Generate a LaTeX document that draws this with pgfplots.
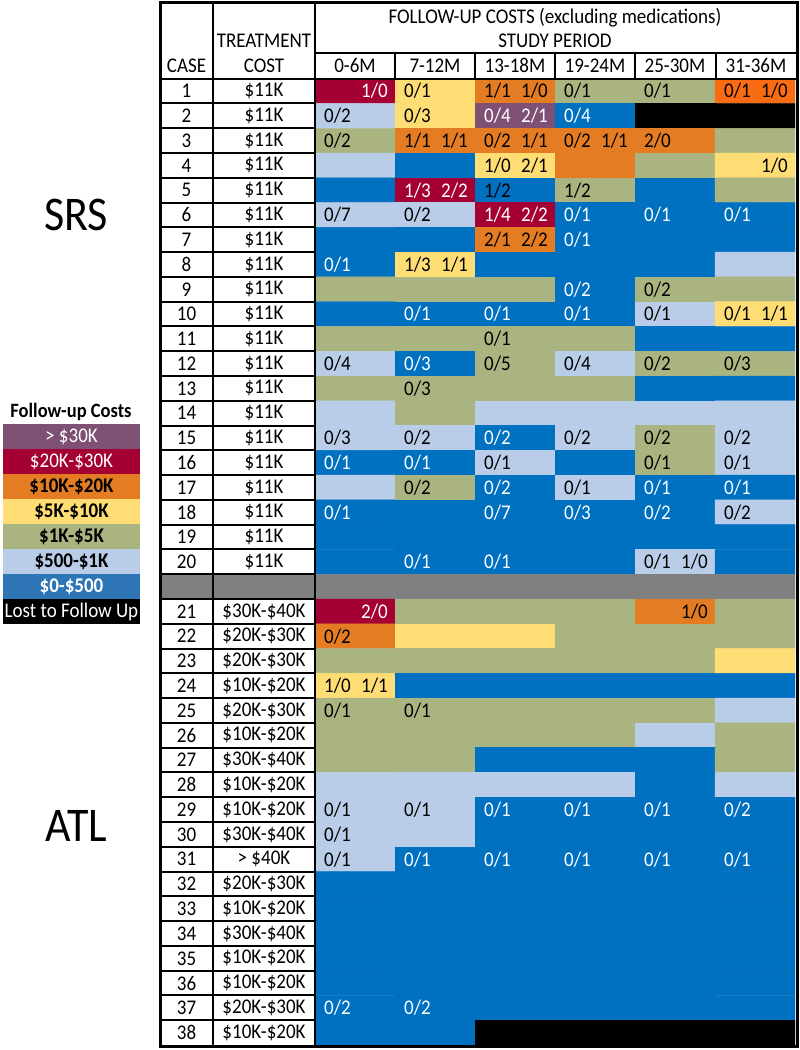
\documentclass[border=0pt]{standalone}
\usepackage{fontspec}
\setmainfont{Carlito}
\usepackage{graphicx}
\usepackage{pgfplots}
\usepackage{pgfplotstable}
\pgfplotsset{compat=1.18}

\definecolor{cPur}{RGB}{126,80,115}
\definecolor{cRed}{RGB}{165,0,52}
\definecolor{cOra}{RGB}{227,124,34}
\definecolor{cYel}{RGB}{255,221,117}
\definecolor{cOli}{RGB}{170,180,128}
\definecolor{cLbl}{RGB}{185,205,233}
\definecolor{cBlu}{RGB}{0,112,192}
\definecolor{cBlu2}{RGB}{46,117,182}
\definecolor{cGry}{RGB}{128,128,128}

\newcommand\cf{\fontsize{19}{22}\selectfont}
\newcommand\st[1]{\scalebox{1}[1.1]{#1}}

% cell colour codes: 0 >30K, 1 20-30K, 2 10-20K, 3 5-10K, 4 1-5K, 5 500-1K, 6 0-500, 7 lost, 8 bright orange, 9 separator
\pgfplotstableread[row sep=\\]{
c r k \\
0 0 1 \\ 1 0 3 \\ 2 0 2 \\ 3 0 4 \\ 4 0 4 \\ 5 0 8 \\
0 1 5 \\ 1 1 3 \\ 2 1 0 \\ 3 1 6 \\ 4 1 7 \\ 5 1 7 \\
0 2 4 \\ 1 2 2 \\ 2 2 2 \\ 3 2 2 \\ 4 2 2 \\ 5 2 4 \\
0 3 5 \\ 1 3 6 \\ 2 3 3 \\ 3 3 2 \\ 4 3 4 \\ 5 3 3 \\
0 4 6 \\ 1 4 1 \\ 2 4 6 \\ 3 4 4 \\ 4 4 6 \\ 5 4 4 \\
0 5 5 \\ 1 5 5 \\ 2 5 1 \\ 3 5 6 \\ 4 5 6 \\ 5 5 6 \\
0 6 6 \\ 1 6 6 \\ 2 6 2 \\ 3 6 6 \\ 4 6 6 \\ 5 6 6 \\
0 7 6 \\ 1 7 3 \\ 2 7 6 \\ 3 7 6 \\ 4 7 6 \\ 5 7 5 \\
0 8 4 \\ 1 8 4 \\ 2 8 4 \\ 3 8 6 \\ 4 8 4 \\ 5 8 4 \\
0 9 6 \\ 1 9 6 \\ 2 9 6 \\ 3 9 6 \\ 4 9 5 \\ 5 9 3 \\
0 10 4 \\ 1 10 4 \\ 2 10 4 \\ 3 10 4 \\ 4 10 6 \\ 5 10 6 \\
0 11 5 \\ 1 11 6 \\ 2 11 4 \\ 3 11 5 \\ 4 11 4 \\ 5 11 4 \\
0 12 4 \\ 1 12 4 \\ 2 12 4 \\ 3 12 4 \\ 4 12 6 \\ 5 12 6 \\
0 13 5 \\ 1 13 4 \\ 2 13 5 \\ 3 13 5 \\ 4 13 5 \\ 5 13 5 \\
0 14 5 \\ 1 14 5 \\ 2 14 6 \\ 3 14 5 \\ 4 14 4 \\ 5 14 5 \\
0 15 6 \\ 1 15 6 \\ 2 15 5 \\ 3 15 6 \\ 4 15 4 \\ 5 15 5 \\
0 16 5 \\ 1 16 4 \\ 2 16 6 \\ 3 16 5 \\ 4 16 6 \\ 5 16 6 \\
0 17 6 \\ 1 17 6 \\ 2 17 6 \\ 3 17 6 \\ 4 17 6 \\ 5 17 5 \\
0 18 6 \\ 1 18 6 \\ 2 18 6 \\ 3 18 6 \\ 4 18 6 \\ 5 18 6 \\
0 19 6 \\ 1 19 6 \\ 2 19 6 \\ 3 19 6 \\ 4 19 5 \\ 5 19 6 \\
0 20 9 \\ 1 20 9 \\ 2 20 9 \\ 3 20 9 \\ 4 20 9 \\ 5 20 9 \\
0 21 1 \\ 1 21 4 \\ 2 21 4 \\ 3 21 4 \\ 4 21 2 \\ 5 21 4 \\
0 22 2 \\ 1 22 3 \\ 2 22 3 \\ 3 22 4 \\ 4 22 4 \\ 5 22 4 \\
0 23 4 \\ 1 23 4 \\ 2 23 4 \\ 3 23 4 \\ 4 23 4 \\ 5 23 3 \\
0 24 3 \\ 1 24 6 \\ 2 24 6 \\ 3 24 6 \\ 4 24 6 \\ 5 24 6 \\
0 25 4 \\ 1 25 4 \\ 2 25 4 \\ 3 25 4 \\ 4 25 4 \\ 5 25 5 \\
0 26 4 \\ 1 26 4 \\ 2 26 4 \\ 3 26 4 \\ 4 26 5 \\ 5 26 4 \\
0 27 4 \\ 1 27 4 \\ 2 27 6 \\ 3 27 6 \\ 4 27 6 \\ 5 27 4 \\
0 28 5 \\ 1 28 5 \\ 2 28 5 \\ 3 28 5 \\ 4 28 6 \\ 5 28 5 \\
0 29 5 \\ 1 29 5 \\ 2 29 6 \\ 3 29 6 \\ 4 29 6 \\ 5 29 6 \\
0 30 5 \\ 1 30 5 \\ 2 30 6 \\ 3 30 6 \\ 4 30 6 \\ 5 30 6 \\
0 31 5 \\ 1 31 6 \\ 2 31 6 \\ 3 31 6 \\ 4 31 6 \\ 5 31 6 \\
0 32 6 \\ 1 32 6 \\ 2 32 6 \\ 3 32 6 \\ 4 32 6 \\ 5 32 6 \\
0 33 6 \\ 1 33 6 \\ 2 33 6 \\ 3 33 6 \\ 4 33 6 \\ 5 33 6 \\
0 34 6 \\ 1 34 6 \\ 2 34 6 \\ 3 34 6 \\ 4 34 6 \\ 5 34 6 \\
0 35 6 \\ 1 35 6 \\ 2 35 6 \\ 3 35 6 \\ 4 35 6 \\ 5 35 6 \\
0 36 6 \\ 1 36 6 \\ 2 36 6 \\ 3 36 6 \\ 4 36 6 \\ 5 36 6 \\
0 37 6 \\ 1 37 6 \\ 2 37 6 \\ 3 37 6 \\ 4 37 6 \\ 5 37 6 \\
0 38 6 \\ 1 38 6 \\ 2 38 7 \\ 3 38 7 \\ 4 38 7 \\ 5 38 7 \\
}\cells

% labels in dark text: column, row, slot, text
\pgfplotstableread[row sep=\\]{
c r s t \\
1 0 0 0/1 \\ 2 0 0 1/1 \\ 2 0 1 1/0 \\ 3 0 0 0/1 \\ 4 0 0 0/1 \\ 5 0 0 0/1 \\ 5 0 1 1/0 \\
0 1 0 0/2 \\ 1 1 0 0/3 \\
0 2 0 0/2 \\ 1 2 0 1/1 \\ 1 2 1 1/1 \\ 2 2 0 0/2 \\ 2 2 1 1/1 \\ 3 2 0 0/2 \\ 3 2 1 1/1 \\ 4 2 0 2/0 \\
2 3 0 1/0 \\ 2 3 1 2/1 \\ 5 3 1 1/0 \\
2 4 0 1/2 \\ 3 4 0 1/2 \\
0 5 0 0/7 \\ 1 5 0 0/2 \\
2 6 0 2/1 \\ 2 6 1 2/2 \\
1 7 0 1/3 \\ 1 7 1 1/1 \\
4 8 0 0/2 \\
4 9 0 0/1 \\ 5 9 0 0/1 \\ 5 9 1 1/1 \\
2 10 0 0/1 \\
0 11 0 0/4 \\ 2 11 0 0/5 \\ 3 11 0 0/4 \\ 4 11 0 0/2 \\ 5 11 0 0/3 \\
1 12 0 0/3 \\
0 14 0 0/3 \\ 1 14 0 0/2 \\ 3 14 0 0/2 \\ 4 14 0 0/2 \\ 5 14 0 0/2 \\
2 15 0 0/1 \\ 4 15 0 0/1 \\ 5 15 0 0/1 \\
1 16 0 0/2 \\ 3 16 0 0/1 \\
5 17 0 0/2 \\
4 19 0 0/1 \\ 4 19 1 1/0 \\
4 21 1 1/0 \\
0 22 0 0/2 \\
0 24 0 1/0 \\ 0 24 1 1/1 \\
0 25 0 0/1 \\ 1 25 0 0/1 \\
0 29 0 0/1 \\ 1 29 0 0/1 \\
0 30 0 0/1 \\
0 31 0 0/1 \\
}\darklabels

% labels in white text
\pgfplotstableread[row sep=\\]{
c r s t \\
0 0 1 1/0 \\
2 1 0 0/4 \\ 2 1 1 2/1 \\ 3 1 0 0/4 \\
1 4 0 1/3 \\ 1 4 1 2/2 \\
2 5 0 1/4 \\ 2 5 1 2/2 \\ 3 5 0 0/1 \\ 4 5 0 0/1 \\ 5 5 0 0/1 \\
3 6 0 0/1 \\
0 7 0 0/1 \\
3 8 0 0/2 \\
1 9 0 0/1 \\ 2 9 0 0/1 \\ 3 9 0 0/1 \\
1 11 0 0/3 \\
2 14 0 0/2 \\
0 15 0 0/1 \\ 1 15 0 0/1 \\
2 16 0 0/2 \\ 4 16 0 0/1 \\ 5 16 0 0/1 \\
0 17 0 0/1 \\ 2 17 0 0/7 \\ 3 17 0 0/3 \\ 4 17 0 0/2 \\
1 19 0 0/1 \\ 2 19 0 0/1 \\
0 21 1 2/0 \\
2 29 0 0/1 \\ 3 29 0 0/1 \\ 4 29 0 0/1 \\ 5 29 0 0/2 \\
1 31 0 0/1 \\ 2 31 0 0/1 \\ 3 31 0 0/1 \\ 4 31 0 0/1 \\ 5 31 0 0/1 \\
0 37 0 0/2 \\ 1 37 0 0/2 \\
}\whitelabels

% case number and treatment cost per row
\pgfplotstableread[col sep=comma]{
r,case,cost
0,1,\$11K
1,2,\$11K
2,3,\$11K
3,4,\$11K
4,5,\$11K
5,6,\$11K
6,7,\$11K
7,8,\$11K
8,9,\$11K
9,10,\$11K
10,11,\$11K
11,12,\$11K
12,13,\$11K
13,14,\$11K
14,15,\$11K
15,16,\$11K
16,17,\$11K
17,18,\$11K
18,19,\$11K
19,20,\$11K
21,21,\$30K-\$40K
22,22,\$20K-\$30K
23,23,\$20K-\$30K
24,24,\$10K-\$20K
25,25,\$20K-\$30K
26,26,\$10K-\$20K
27,27,\$30K-\$40K
28,28,\$10K-\$20K
29,29,\$10K-\$20K
30,30,\$30K-\$40K
31,31,> \$40K
32,32,\$20K-\$30K
33,33,\$10K-\$20K
34,34,\$30K-\$40K
35,35,\$10K-\$20K
36,36,\$10K-\$20K
37,37,\$20K-\$30K
38,38,\$10K-\$20K
}\rows

\begin{document}
\begin{tikzpicture}
\begin{axis}[
  width=800pt, height=1050pt, scale only axis,
  xmin=0, xmax=800, ymin=0, ymax=1050, y dir=reverse,
  axis lines=none, clip=false,
  colormap={cat}{rgb255=(126,80,115) rgb255=(165,0,52) rgb255=(227,124,34)
    rgb255=(255,221,117) rgb255=(170,180,128) rgb255=(185,205,233)
    rgb255=(0,112,192) rgb255=(0,0,0) rgb255=(250,108,20) rgb255=(128,128,128)},
  colormap access=direct,
]
\path (axis cs:0,0) rectangle (axis cs:800,1050);

% coloured cells
\addplot[matrix plot*, mesh/cols=6, point meta=explicit]
  table[x expr={355+80*\thisrow{c}}, y expr={91.09+24.777*\thisrow{r}}, meta=k] {\cells};

% separator in the case / treatment columns
\fill[cGry] (axis cs:160,574.2) rectangle (axis cs:315,599.0);

% labels in cells
\addplot[only marks, mark=none, point meta=explicit symbolic,
  nodes near coords={\st{\pgfplotspointmeta}},
  every node near coord/.append style={anchor=west, inner sep=0pt, font=\cf, text=black}]
  table[x expr={324+80*\thisrow{c}+37*\thisrow{s}}, y expr={91.09+24.777*\thisrow{r}}, meta=t] {\darklabels};
\addplot[only marks, mark=none, point meta=explicit symbolic,
  nodes near coords={\st{\pgfplotspointmeta}},
  every node near coord/.append style={anchor=west, inner sep=0pt, font=\cf, text=white}]
  table[x expr={324+80*\thisrow{c}+37*\thisrow{s}}, y expr={91.09+24.777*\thisrow{r}}, meta=t] {\whitelabels};

% case numbers and treatment costs
\addplot[only marks, mark=none, point meta=explicit symbolic,
  nodes near coords={\st{\pgfplotspointmeta}},
  every node near coord/.append style={anchor=center, inner sep=0pt, font=\cf}]
  table[x expr=186.5, y expr={91.09+24.777*\thisrow{r}}, meta=case] {\rows};
\addplot[only marks, mark=none, point meta=explicit symbolic,
  nodes near coords={\st{\pgfplotspointmeta}},
  every node near coord/.append style={anchor=center, inner sep=0pt, font=\cf}]
  table[x expr=264, y expr={91.09+24.777*\thisrow{r}}, meta=cost] {\rows};

% table rules
\pgfplotsinvokeforeach{1,...,38}{
  \draw[line width=2pt] (axis cs:160,{78.7+24.777*#1}) -- (axis cs:315,{78.7+24.777*#1});
}
\draw[line width=2pt] (axis cs:160,78.7) -- (axis cs:797.5,78.7);
\draw[line width=2pt] (axis cs:315,52.5) -- (axis cs:797.5,52.5);
\foreach \xx in {395,475,555,635,716} {
  \edef\tmp{\noexpand\draw[line width=2pt] (axis cs:\xx,52.5) -- (axis cs:\xx,78.7);}\tmp
}
\draw[line width=2pt] (axis cs:213,2.5) -- (axis cs:213,1046.5);
\draw[line width=2pt] (axis cs:315,2.5) -- (axis cs:315,1046.5);
\draw[line width=3pt] (axis cs:160,2.5) rectangle (axis cs:797.5,1046.5);

% header
\node[font=\cf] at (axis cs:555,18) {\st{FOLLOW-UP COSTS (excluding medications)}};
\node[font=\cf] at (axis cs:555,40.5) {\st{STUDY PERIOD}};
\node[font=\cf] at (axis cs:186.5,65.5) {\st{CASE}};
\node[font=\cf] at (axis cs:264,40.5) {\st{TREATMENT}};
\node[font=\cf] at (axis cs:264,65.5) {\st{COST}};
\node[font=\cf] at (axis cs:355,65.5) {\st{0-6M}};
\node[font=\cf] at (axis cs:435,65.5) {\st{7-12M}};
\node[font=\cf] at (axis cs:515,65.5) {\st{13-18M}};
\node[font=\cf] at (axis cs:595,65.5) {\st{19-24M}};
\node[font=\cf] at (axis cs:675,65.5) {\st{25-30M}};
\node[font=\cf] at (axis cs:756,65.5) {\st{31-36M}};

% group labels
\node[font=\fontsize{44}{50}\selectfont] at (axis cs:76,215) {\st{SRS}};
\node[font=\fontsize{44}{50}\selectfont] at (axis cs:76,826) {\st{ATL}};

% legend
\node[font=\fontsize{18.5}{21}\selectfont\bfseries] at (axis cs:71,412) {\st{Follow-up Costs}};
\fill[cPur] (axis cs:3,424) rectangle (axis cs:140,449);
\fill[cRed] (axis cs:3,449) rectangle (axis cs:140,474);
\fill[cOra] (axis cs:3,474) rectangle (axis cs:140,499);
\fill[cYel] (axis cs:3,499) rectangle (axis cs:140,524);
\fill[cOli] (axis cs:3,524) rectangle (axis cs:140,549);
\fill[cLbl] (axis cs:3,549) rectangle (axis cs:140,574);
\fill[cBlu2] (axis cs:3,574) rectangle (axis cs:140,599);
\fill[black] (axis cs:3,599) rectangle (axis cs:140,624);
\node[font=\cf, text=white] at (axis cs:71.5,436.5) {\st{> \$30K}};
\node[font=\cf, text=white] at (axis cs:71.5,461.5) {\st{\$20K-\$30K}};
\node[font=\cf\bfseries] at (axis cs:71.5,486.5) {\st{\$10K-\$20K}};
\node[font=\cf\bfseries] at (axis cs:71.5,511.5) {\st{\$5K-\$10K}};
\node[font=\cf\bfseries] at (axis cs:71.5,536.5) {\st{\$1K-\$5K}};
\node[font=\cf\bfseries] at (axis cs:71.5,561.5) {\st{\$500-\$1K}};
\node[font=\cf\bfseries, text=white] at (axis cs:71.5,586.5) {\st{\$0-\$500}};
\node[font=\cf, text=white] at (axis cs:71.5,611.5) {\st{Lost to Follow Up}};
\end{axis}
\end{tikzpicture}
\end{document}
